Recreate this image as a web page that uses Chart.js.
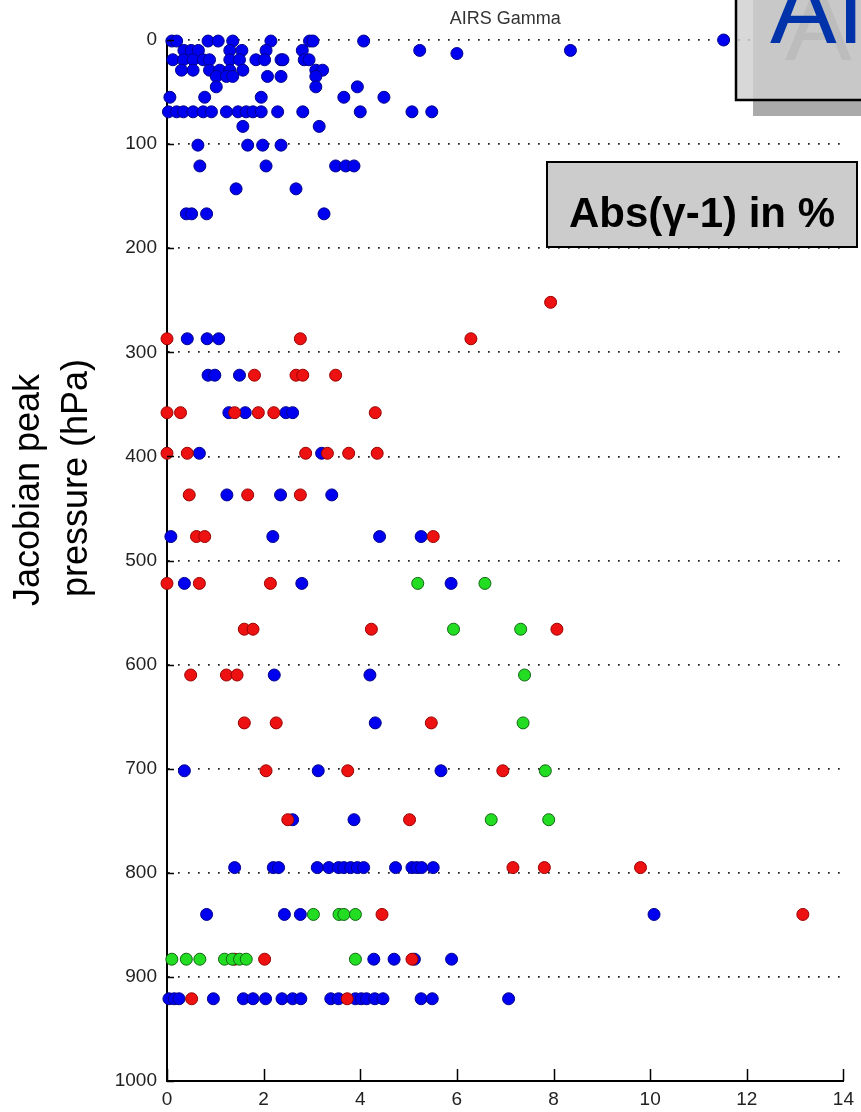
<!DOCTYPE html>
<html>
<head>
<meta charset="utf-8">
<script src="https://cdn.jsdelivr.net/npm/chart.js"></script>
<style>
  html, body { margin: 0; padding: 0; background: #fff; }
  canvas { display: block; }
</style>
</head>
<body>
<canvas id="graphic" width="861" height="1112"></canvas>
<script>
// axis ticks
const xTicks = [0, 2, 4, 6, 8, 10, 12, 14];
const yTicks = [0, 100, 200, 300, 400, 500, 600, 700, 800, 900, 1000];

// blue series: pressure levels and the Abs(gamma-1) values found on each
const blueLevels = [0, 1, 10, 13, 19, 29, 35, 45, 55, 69, 83, 101, 121, 143, 167,
  287, 322, 358, 397, 437, 477, 522, 610, 656, 702, 749, 795, 840, 883, 921];
const blueValues = [
  [11.52],
  [0.1, 0.2, 0.85, 1.06, 1.36, 2.15, 2.95, 3.02, 4.07],
  [0.35, 0.5, 0.65, 1.3, 1.55, 2.05, 2.8, 5.23, 8.35],
  [6.0],
  [0.12, 0.34, 0.54, 0.75, 0.88, 1.3, 1.5, 1.84, 2.02, 2.36, 2.4, 2.84, 2.94],
  [0.3, 0.54, 0.88, 1.09, 1.3, 1.57, 3.08, 3.22],
  [1.02, 1.23, 1.36, 2.08, 2.36, 3.08],
  [1.02, 3.08, 3.94],
  [0.06, 0.78, 1.95, 3.66, 4.49],
  [0.03, 0.2, 0.34, 0.54, 0.75, 0.92, 1.23, 1.47, 1.64, 1.78, 1.95, 2.29, 2.81, 4.0, 5.07, 5.48],
  [1.57, 3.15],
  [0.64, 1.67, 1.98, 2.36],
  [0.68, 2.05, 3.49, 3.7, 3.87],
  [1.43, 2.67],
  [0.4, 0.51, 0.82, 3.25],
  [0.42, 0.83, 1.07],
  [0.85, 0.99, 1.5],
  [1.28, 1.62, 2.46, 2.6],
  [0.67, 3.2],
  [1.24, 2.35, 3.41],
  [0.08, 2.19, 4.4, 5.26],
  [0.36, 2.79, 5.88],
  [2.22, 4.2],
  [4.31],
  [0.36, 3.13, 5.67],
  [2.6, 3.87],
  [1.4, 2.2, 2.31, 3.11, 3.35, 3.55, 3.66, 3.8, 3.94, 4.07, 4.73, 5.07, 5.17, 5.27, 5.51],
  [0.82, 2.43, 2.76, 10.08],
  [4.28, 4.7, 5.12, 5.89],
  [0.04, 0.15, 0.25, 0.96, 1.58, 1.78, 2.04, 2.38, 2.6, 2.77, 3.39, 3.55, 3.9, 4.02, 4.13, 4.3, 4.47, 5.26, 5.49, 7.07]
];

// red series
const redLevels = [252, 287, 322, 358, 397, 437, 477, 522, 566, 610, 656, 702, 749, 795, 840, 883, 921];
const redValues = [
  [7.94],
  [0.0, 2.76, 6.29],
  [1.81, 2.67, 2.81, 3.49],
  [0.0, 0.28, 1.4, 1.89, 2.21, 4.31],
  [0.0, 0.42, 2.87, 3.32, 3.76, 4.35],
  [0.46, 1.67, 2.76],
  [0.61, 0.78, 5.51],
  [0.0, 0.67, 2.14],
  [1.6, 1.78, 4.23, 8.07],
  [0.49, 1.23, 1.45],
  [1.6, 2.26, 5.47],
  [2.05, 3.74, 6.95],
  [2.5, 5.02],
  [7.16, 7.81, 9.8],
  [4.45, 13.16],
  [1.4, 2.02, 5.07],
  [0.51, 3.73]
];

// green series
const greenLevels = [522, 566, 610, 656, 702, 749, 840, 883];
const greenValues = [
  [5.19, 6.58],
  [5.93, 7.32],
  [7.4],
  [7.37],
  [7.83],
  [6.71, 7.9],
  [3.03, 3.56, 3.66, 3.9],
  [0.1, 0.4, 0.68, 1.19, 1.35, 1.5, 1.64, 3.9]
];

function toPoints(levels, values) {
  const pts = [];
  levels.forEach((p, i) => {
    values[i].forEach(v => pts.push({ x: v, y: p }));
  });
  return pts;
}

const tickFont = { family: '"Liberation Sans", Arial, sans-serif', size: 19 };

// short inward tick marks like the original axes
const innerTicks = {
  id: 'innerTicks',
  afterDraw(chart) {
    const { ctx, scales: { x, y } } = chart;
    ctx.save();
    ctx.strokeStyle = '#000';
    ctx.lineWidth = 1.5;
    ctx.beginPath();
    yTicks.forEach(t => {
      const py = Math.round(y.getPixelForValue(t)) + 0.5;
      ctx.moveTo(x.left, py);
      ctx.lineTo(x.left + 7, py);
    });
    xTicks.forEach(t => {
      const px = Math.round(x.getPixelForValue(t)) + 0.5;
      ctx.moveTo(px, y.bottom);
      ctx.lineTo(px, y.bottom - 12);
    });
    ctx.stroke();
    ctx.restore();
  }
};

// two-line rotated y axis title
const yTitle = {
  id: 'yTitle',
  afterDraw(chart) {
    const ctx = chart.ctx;
    ctx.save();
    ctx.font = '36px "Liberation Sans", Arial, sans-serif';
    ctx.fillStyle = '#000';
    ctx.textAlign = 'center';
    ctx.textBaseline = 'middle';
    [['Jacobian peak', 29, 490], ['pressure (hPa)', 77, 478]].forEach(([txt, cx, cy]) => {
      ctx.save();
      ctx.translate(cx, cy);
      ctx.rotate(-Math.PI / 2);
      ctx.fillText(txt, 0, 0);
      ctx.restore();
    });
    ctx.restore();
  }
};

// slide overlay boxes
const overlays = {
  id: 'overlays',
  afterDraw(chart) {
    const ctx = chart.ctx;
    ctx.save();
    // top-right title box with shadow
    ctx.fillStyle = '#aaaaaa';
    ctx.fillRect(753, -20, 200, 136);
    ctx.fillStyle = 'rgba(207,207,207,0.81)';
    ctx.fillRect(736, -20, 200, 120);
    ctx.strokeStyle = '#000';
    ctx.lineWidth = 2.5;
    ctx.strokeRect(736, -20, 200, 120);
    ctx.font = '100px "Liberation Sans", Arial, sans-serif';
    ctx.textAlign = 'left';
    ctx.textBaseline = 'alphabetic';
    ctx.fillStyle = '#bcbcbc';
    ctx.fillText('AIRS', 785, 60);
    ctx.fillStyle = '#0033aa';
    ctx.fillText('AIRS', 770, 43);

    // Abs(gamma-1) label box
    ctx.fillStyle = '#cccccc';
    ctx.fillRect(547, 162, 310, 85);
    ctx.lineWidth = 2;
    ctx.strokeStyle = '#000';
    ctx.strokeRect(547, 162, 310, 85);
    ctx.fillStyle = '#000';
    ctx.font = 'bold 42px "Liberation Sans", Arial, sans-serif';
    ctx.textAlign = 'center';
    ctx.fillText('Abs(\u03B3-1) in %', 702, 227);
    ctx.restore();
  }
};

function series(data, bg, border) {
  return {
    data,
    backgroundColor: bg,
    borderColor: border,
    borderWidth: 1,
    pointRadius: 6,
    pointHoverRadius: 6,
    clip: false
  };
}

const data = {
  datasets: [
    series(toPoints(greenLevels, greenValues), '#22dd22', '#116611'),
    series(toPoints(redLevels, redValues), '#ee1111', '#990000'),
    series(toPoints(blueLevels, blueValues), '#0000f0', '#00008b')
  ]
};

const config = {
  type: 'scatter',
  data,
  options: {
    responsive: false,
    animation: false,
    devicePixelRatio: 1,
    layout: { padding: { top: 0, right: 14, left: 0, bottom: 0 } },
    plugins: {
      legend: { display: false },
      tooltip: { enabled: false },
      title: {
        display: true,
        text: 'AIRS Gamma',
        fullSize: false,
        color: '#333',
        font: { family: '"Liberation Sans", Arial, sans-serif', size: 18, weight: 'normal', lineHeight: 1.2 },
        padding: { top: 8, bottom: 10.4 }
      }
    },
    scales: {
      x: {
        type: 'linear',
        min: 0,
        max: 14,
        ticks: { stepSize: 2, autoSkip: false, color: '#222', font: tickFont, padding: 7, maxRotation: 0, callback: v => String(v) },
        grid: { display: false, drawTicks: false },
        border: { display: true, color: '#000', width: 2 },
        afterFit: s => { s.height = 31; }
      },
      y: {
        type: 'linear',
        reverse: true,
        min: 0,
        max: 1000,
        ticks: { stepSize: 100, autoSkip: false, color: '#222', font: tickFont, padding: 10, callback: v => String(v) },
        grid: { color: '#222', lineWidth: 1.7, drawTicks: false },
        border: { display: true, color: '#000', width: 2, dash: [1.7, 8.3] },
        afterFit: s => { s.width = 167; }
      }
    }
  },
  plugins: [innerTicks, yTitle, overlays]
};

new Chart(document.getElementById('graphic'), config);
</script>
</body>
</html>
